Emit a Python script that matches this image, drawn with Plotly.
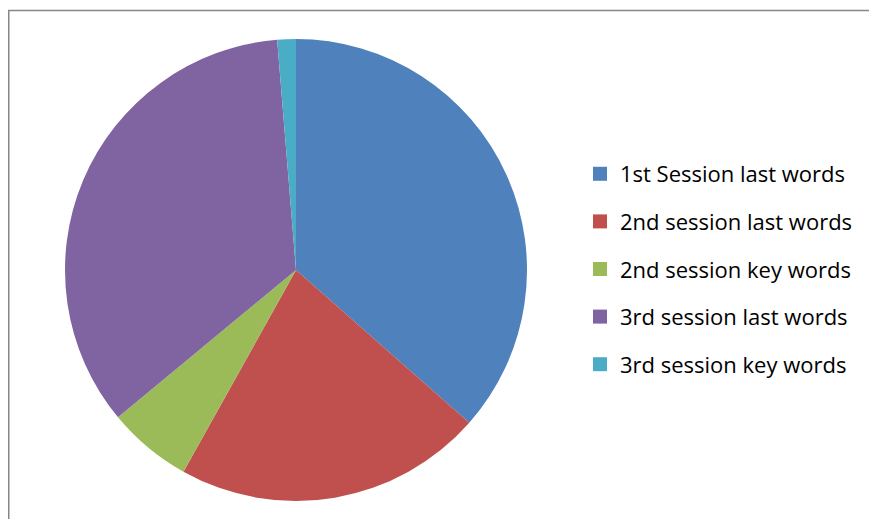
import plotly.graph_objects as go

labels = ["1st Session last words", "2nd session last words", "2nd session key words",
          "3rd session last words", "3rd session key words"]
values = [36.5, 21.6, 5.9, 34.7, 1.3]
colors = ["#4F81BD", "#C0504D", "#9BBB59", "#8064A2", "#4BACC6"]

W, H = 869, 511
fig = go.Figure()
fig.add_trace(go.Pie(
    labels=labels, values=values, sort=False, direction="clockwise", rotation=0,
    marker=dict(colors=colors, line=dict(width=0)),
    textinfo="none", hoverinfo="label+percent", showlegend=False,
    domain=dict(x=[57 / W, 519 / W], y=[18 / H, 480 / H]),
))
for i, (lab, col) in enumerate(zip(labels, colors)):
    fig.add_trace(go.Scatter(
        x=[None], y=[None], mode="markers", name=lab, legendgroup=f"g{i}",
        marker=dict(symbol="square", size=14, color=col),
    ))

fig.update_layout(
    width=W, height=H, margin=dict(l=0, r=0, t=0, b=0),
    paper_bgcolor="white", plot_bgcolor="white",
    xaxis=dict(visible=False), yaxis=dict(visible=False),
    font=dict(family="Open Sans, Carlito, Calibri, sans-serif", color="#000000"),
    legend=dict(x=572 / W, y=(H - 261) / H, xanchor="left", yanchor="middle",
                font=dict(size=22), tracegroupgap=16, itemwidth=30,
                bgcolor="rgba(0,0,0,0)"),
    shapes=[
        dict(type="line", xref="paper", yref="paper", x0=0, x1=1, y0=1 - 2.5 / H, y1=1 - 2.5 / H,
             line=dict(color="#868686", width=1.5)),
        dict(type="line", xref="paper", yref="paper", x0=0.75 / W, x1=0.75 / W, y0=0, y1=1 - 2.5 / H,
             line=dict(color="#868686", width=1.5)),
    ],
)
fig.write_html("out.html")
